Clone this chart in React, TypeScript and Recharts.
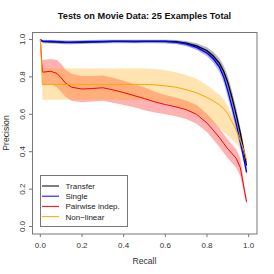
import { ComposedChart, Area, Line, XAxis, YAxis } from "recharts";

const recall = [0, 0.01, 0.05, 0.08, 0.1, 0.12, 0.15, 0.2, 0.25, 0.3, 0.35, 0.4, 0.45, 0.5, 0.55, 0.6, 0.65, 0.7, 0.75, 0.8, 0.83, 0.86, 0.88, 0.9, 0.92, 0.94, 0.96, 0.97, 0.98, 0.99];

const transfer = [1.0, 0.99, 0.988, 0.987, 0.986, 0.985, 0.984, 0.986, 0.988, 0.989, 0.99, 0.99, 0.99, 0.99, 0.99, 0.99, 0.988, 0.98, 0.966, 0.94, 0.912, 0.872, 0.83, 0.77, 0.69, 0.6, 0.5, 0.445, 0.385, 0.325];
const transferLo = [null, 0.98, 0.978, 0.977, 0.976, 0.975, 0.974, 0.976, 0.978, 0.979, 0.98, 0.98, 0.98, 0.98, 0.98, 0.979, 0.976, 0.966, 0.95, 0.92, 0.888, 0.845, 0.8, 0.735, 0.655, 0.565, 0.47, 0.415, 0.36, 0.3];
const transferHi = [null, 0.998, 0.997, 0.996, 0.995, 0.994, 0.994, 0.995, 0.997, 0.998, 0.998, 0.998, 0.998, 0.998, 0.998, 0.998, 0.997, 0.992, 0.98, 0.958, 0.934, 0.898, 0.86, 0.805, 0.725, 0.635, 0.53, 0.475, 0.41, 0.35];

const single = [1.0, 0.99, 0.99, 0.988, 0.987, 0.985, 0.985, 0.987, 0.988, 0.989, 0.99, 0.99, 0.989, 0.99, 0.99, 0.99, 0.986, 0.976, 0.958, 0.928, 0.898, 0.852, 0.8, 0.725, 0.64, 0.55, 0.45, 0.4, 0.345, 0.29];
const singleLo = [null, 0.982, 0.982, 0.98, 0.979, 0.977, 0.977, 0.979, 0.98, 0.981, 0.982, 0.982, 0.981, 0.982, 0.982, 0.981, 0.977, 0.965, 0.944, 0.91, 0.876, 0.826, 0.77, 0.69, 0.605, 0.515, 0.42, 0.37, 0.32, 0.27];
const singleHi = [null, 0.997, 0.997, 0.996, 0.995, 0.993, 0.993, 0.995, 0.996, 0.997, 0.997, 0.997, 0.997, 0.997, 0.997, 0.997, 0.995, 0.987, 0.972, 0.946, 0.92, 0.878, 0.83, 0.76, 0.675, 0.585, 0.48, 0.43, 0.37, 0.31];

const pairwise = [1.0, 0.825, 0.83, 0.818, 0.795, 0.768, 0.745, 0.735, 0.738, 0.742, 0.73, 0.716, 0.7, 0.684, 0.666, 0.652, 0.64, 0.625, 0.6, 0.553, 0.515, 0.475, 0.445, 0.415, 0.39, 0.365, 0.315, 0.255, 0.19, 0.132];
const pairwiseLo = [null, 0.755, 0.758, 0.745, 0.72, 0.695, 0.672, 0.665, 0.668, 0.672, 0.662, 0.65, 0.638, 0.622, 0.61, 0.6, 0.59, 0.575, 0.55, 0.505, 0.465, 0.425, 0.395, 0.365, 0.34, 0.315, 0.27, 0.22, 0.165, 0.115];
const pairwiseHi = [null, 0.89, 0.895, 0.89, 0.87, 0.84, 0.815, 0.805, 0.805, 0.808, 0.795, 0.78, 0.762, 0.745, 0.72, 0.703, 0.69, 0.674, 0.65, 0.603, 0.565, 0.525, 0.495, 0.465, 0.44, 0.415, 0.365, 0.29, 0.215, 0.15];

const nonlinear = [1.0, 0.76, 0.76, 0.76, 0.76, 0.76, 0.76, 0.76, 0.76, 0.76, 0.76, 0.76, 0.76, 0.76, 0.757, 0.752, 0.745, 0.732, 0.715, 0.69, 0.672, 0.65, 0.63, 0.603, 0.56, 0.515, 0.46, 0.43, 0.395, 0.355];
const nonlinearLo = [null, 0.678, 0.678, 0.678, 0.678, 0.678, 0.678, 0.678, 0.678, 0.678, 0.678, 0.678, 0.678, 0.678, 0.67, 0.66, 0.645, 0.625, 0.6, 0.57, 0.55, 0.525, 0.505, 0.485, 0.465, 0.445, 0.415, 0.395, 0.37, 0.34];
const nonlinearHi = [null, 0.845, 0.845, 0.845, 0.845, 0.845, 0.845, 0.845, 0.845, 0.845, 0.845, 0.845, 0.845, 0.845, 0.842, 0.835, 0.825, 0.81, 0.79, 0.755, 0.73, 0.705, 0.68, 0.645, 0.6, 0.55, 0.49, 0.455, 0.415, 0.37];

const ticks = [0, 0.2, 0.4, 0.6, 0.8, 1.0];
const tickLabels = ["0.0", "0.2", "0.4", "0.6", "0.8", "1.0"];

const legendItems = [
  { name: "Transfer", color: "#000000" },
  { name: "Single", color: "#0000ff" },
  { name: "Pairwise indep.", color: "#ff0000" },
  { name: "Non\u2212linear", color: "#ffa500" },
];

const band = (lo: (number | null)[], hi: (number | null)[], i: number) =>
  lo[i] == null || hi[i] == null ? null : [lo[i], hi[i]];

const rows = recall.map((x, i) => ({
  x,
  transfer: transfer[i],
  transferBand: band(transferLo, transferHi, i),
  single: single[i],
  singleBand: band(singleLo, singleHi, i),
  pairwise: pairwise[i],
  pairwiseBand: band(pairwiseLo, pairwiseHi, i),
  nonlinear: nonlinear[i],
  nonlinearBand: band(nonlinearLo, nonlinearHi, i),
}));

const W = 274;
const H = 274;
const M = { top: 32, right: 17, bottom: 0, left: 0 };
const Y_W = 32;
const X_H = 40;
const plot = { x: M.left + Y_W, y: M.top, w: W - M.left - M.right - Y_W, h: H - M.top - M.bottom - X_H };
const font = "'Liberation Sans', Arial, Helvetica, sans-serif";
const axisGray = "#777";

const label = (v: number) => tickLabels[ticks.indexOf(v)] ?? String(v);

const XTick = (p: any) => (
  <text x={p.x} y={p.y} textAnchor="middle" fontSize={8} fill="#333" fontFamily={font}>
    {label(p.payload.value)}
  </text>
);

const YTick = (p: any) => (
  <text
    x={p.x}
    y={p.y}
    transform={`rotate(-90 ${p.x} ${p.y})`}
    textAnchor="middle"
    fontSize={8}
    fill="#333"
    fontFamily={font}
  >
    {label(p.payload.value)}
  </text>
);

export default function App() {
  return (
    <div style={{ position: "absolute", left: 0, top: 0, width: W, height: H, background: "#fff", fontFamily: font }}>
      <ComposedChart width={W} height={H} data={rows} margin={M}>
        <XAxis
          dataKey="x"
          type="number"
          domain={[-0.04, 1.04]}
          ticks={ticks}
          allowDataOverflow
          height={X_H}
          axisLine={false}
          tickLine={{ stroke: axisGray }}
          tickSize={3}
          tickMargin={11}
          tick={XTick}
        />
        <YAxis
          type="number"
          domain={[-0.04, 1.04]}
          ticks={ticks}
          allowDataOverflow
          width={Y_W}
          axisLine={false}
          tickLine={{ stroke: axisGray }}
          tickSize={3}
          tickMargin={4}
          tick={YTick}
        />
        <Area dataKey="transferBand" type="linear" stroke="none" fill="#000000" fillOpacity={0.28} isAnimationActive={false} />
        <Area dataKey="singleBand" type="linear" stroke="none" fill="#0000ff" fillOpacity={0.28} isAnimationActive={false} />
        <Area dataKey="pairwiseBand" type="linear" stroke="none" fill="#ff0000" fillOpacity={0.3} isAnimationActive={false} />
        <Area dataKey="nonlinearBand" type="linear" stroke="none" fill="#ffa500" fillOpacity={0.3} isAnimationActive={false} />
        <Line dataKey="transfer" type="linear" stroke="#000000" strokeWidth={1.3} dot={false} isAnimationActive={false} />
        <Line dataKey="single" type="linear" stroke="#0000ff" strokeWidth={1.3} dot={false} isAnimationActive={false} />
        <Line dataKey="pairwise" type="linear" stroke="#ff0000" strokeWidth={1} dot={false} isAnimationActive={false} />
        <Line dataKey="nonlinear" type="linear" stroke="#ffa500" strokeWidth={1} dot={false} isAnimationActive={false} />
      </ComposedChart>

      <svg width={W} height={H} style={{ position: "absolute", left: 0, top: 0, pointerEvents: "none" }} fontFamily={font}>
        <rect x={plot.x + 0.5} y={plot.y + 0.5} width={plot.w - 0.5} height={plot.h - 0.5} fill="none" stroke={axisGray} />
        <text x={plot.x + plot.w / 2} y={19} textAnchor="middle" fontSize={9.2} fontWeight="bold" fill="#111">
          Tests on Movie Data: 25 Examples Total
        </text>
        <text x={plot.x + plot.w / 2} y={263.5} textAnchor="middle" fontSize={8.6} fill="#333">
          Recall
        </text>
        <text x={8.5} y={plot.y + plot.h / 2} transform={`rotate(-90 8.5 ${plot.y + plot.h / 2})`} textAnchor="middle" fontSize={8.6} fill="#333">
          Precision
        </text>
        <rect x={40.5} y={175.5} width={87} height={51} fill="#fff" stroke={axisGray} />
        {legendItems.map((it, i) => {
          const cy = 186 + i * 10.2;
          return (
            <g key={it.name}>
              <line x1={42} x2={59} y1={cy} y2={cy} stroke={it.color} strokeWidth={1} />
              <text x={65.5} y={cy + 3} fontSize={8} fill="#222">
                {it.name}
              </text>
            </g>
          );
        })}
      </svg>
    </div>
  );
}
